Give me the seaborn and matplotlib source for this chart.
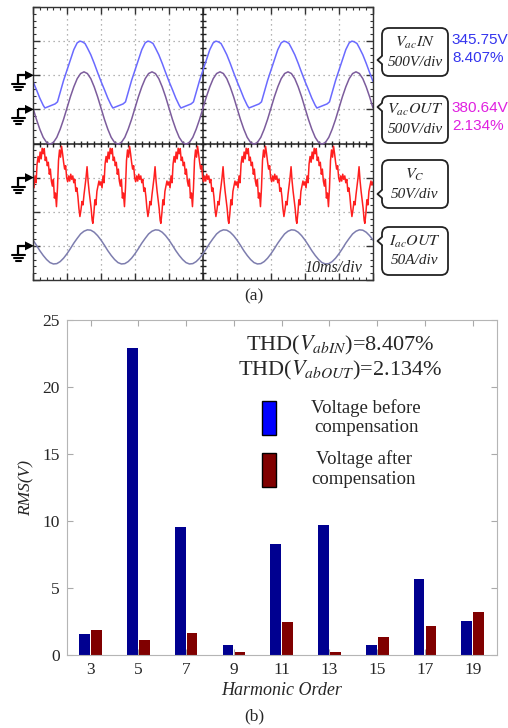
import numpy as np
import pandas as pd
import matplotlib
matplotlib.use("Agg")
import matplotlib.pyplot as plt
import seaborn as sns
from matplotlib.patches import FancyBboxPatch, Patch

# ---- (b) harmonic spectrum ----
harmonics = ['3', '5', '7', '9', '11', '13', '15', '17', '19']
rms_before = [1.54, 22.9, 9.54, 0.74, 8.25, 9.69, 0.75, 5.69, 2.56]
rms_after = [1.83, 1.12, 1.62, 0.25, 2.49, 0.25, 1.32, 2.20, 3.23]

# ---- (a) scope traces, one 20 ms period each (t in ms, value in divisions) ----
period = 20
t_vin = [0, 1, 2, 3, 3.5, 4.5, 5.5, 6.5, 7.2, 8, 9, 10, 11, 12, 13, 13.8, 14.5, 15.3, 16, 17, 18, 19]
v_vin = [5.82, 5.58, 5.33, 5.12, 5.04, 5.08, 5.12, 5.16, 5.22, 5.50, 5.85, 6.15, 6.45,
         6.75, 6.95, 7.00, 6.98, 6.93, 6.80, 6.60, 6.35, 6.08]
t_sin = list(range(20))
v_vout = [5.04, 4.71, 4.42, 4.18, 4.03, 3.98, 4.03, 4.18, 4.42, 4.71,
          5.04, 5.37, 5.66, 5.90, 6.05, 6.10, 6.05, 5.90, 5.66, 5.37]
i_out = [1.17, 1.02, 0.86, 0.72, 0.60, 0.51, 0.47, 0.48, 0.54, 0.64,
         0.77, 0.92, 1.08, 1.22, 1.35, 1.43, 1.47, 1.46, 1.40, 1.30]
t_vc = [0.0, 0.3, 0.6, 0.9, 1.2, 1.5, 1.8, 2.1, 2.4, 2.7, 3.0, 3.3, 3.6, 3.9, 4.2, 4.5,
        4.8, 5.1, 5.4, 5.7, 6.0, 6.3, 6.6, 6.9, 7.2, 7.5, 7.8, 8.1, 8.4, 8.7, 9.0, 9.3,
        9.6, 9.9, 10.2, 10.5, 10.8, 11.1, 11.4, 11.7, 12.0, 12.3, 12.6, 12.9, 13.2, 13.5,
        13.8, 14.1, 14.4, 14.7, 15.0, 15.3, 15.6, 15.9, 16.2, 16.5, 16.8, 17.1, 17.4,
        17.6, 17.9, 18.2, 18.5, 18.8, 19.1, 19.4, 19.7]
v_vc = [2.88, 2.70, 3.05, 2.85, 3.40, 3.62, 3.45, 3.75, 3.55, 3.86, 3.70, 3.85, 3.50,
        3.60, 3.35, 3.45, 3.10, 3.25, 2.90, 2.75, 2.95, 2.40, 2.55, 2.15, 2.70, 3.50,
        3.81, 3.60, 3.92, 3.70, 3.45, 3.25, 3.35, 3.00, 2.88, 3.05, 2.90, 3.10, 2.95,
        3.05, 2.85, 2.95, 2.60, 2.70, 2.45, 2.10, 1.86, 2.05, 2.30, 2.20, 2.50, 2.75,
        3.00, 3.32, 2.90, 2.60, 2.35, 2.10, 1.75, 1.66, 1.95, 2.35, 2.20, 2.60, 2.75,
        2.90, 2.78]


def repeat_period(t_one, v_one, n=5):
    t = np.concatenate([np.asarray(t_one, float) + k * period for k in range(n)] + [[n * period]])
    v = np.concatenate([np.asarray(v_one, float)] * n + [[v_one[0]]])
    return t, v


frames = []
for name, tt, vv in [('VacIN', t_vin, v_vin), ('VacOUT', t_sin, v_vout),
                     ('VC', t_vc, v_vc), ('IacOUT', t_sin, i_out)]:
    t, v = repeat_period(tt, vv)
    frames.append(pd.DataFrame({'t': t, 'v': v, 'trace': name}))
scope = pd.concat(frames, ignore_index=True)

bars = pd.DataFrame({'harmonic': harmonics * 2,
                     'rms': rms_before + rms_after,
                     'series': ['before'] * 9 + ['after'] * 9})

sns.set_style('white')
plt.rcParams['font.family'] = ['Liberation Serif', 'DejaVu Serif']
plt.rcParams['mathtext.fontset'] = 'stix'

W, H = 508, 728
fig = plt.figure(figsize=(W / 100, H / 100), dpi=100)
ax_s = fig.add_axes([33 / W, 1 - 280 / H, 340 / W, 273 / H])
ax_b = fig.add_axes([66.7 / W, 1 - 655 / H, 430 / W, 335 / H])

# scope panel
sns.lineplot(data=scope, x='t', y='v', hue='trace', estimator=None, sort=False,
             palette={'VacIN': '#6a6aff', 'VacOUT': '#7c5c9c', 'VC': '#ff1f1f', 'IacOUT': '#7d7dae'},
             lw=1.1, legend=False, ax=ax_s)
ax_s.set_xlim(0, 100)
ax_s.set_ylim(0, 8)
ax_s.set_xticks(np.arange(0, 101, 10))
ax_s.set_yticks(np.arange(0, 9, 1))
ax_s.set_xticks(np.arange(0, 101, 2), minor=True)
ax_s.set_yticks(np.arange(0, 8.01, 0.2), minor=True)
ax_s.tick_params(which='both', direction='in', top=True, right=True, bottom=True, left=True,
                 labelbottom=False, labelleft=False, color='#333333')
ax_s.tick_params(which='major', length=5, width=1)
ax_s.tick_params(which='minor', length=2.5, width=0.8)
ax_s.grid(which='major', color='#9a9a9a', ls=(0, (1, 3)), lw=0.9)
ax_s.axhline(4, color='#222222', lw=1.1, zorder=1.5)
ax_s.axvline(50, color='#222222', lw=1.1, zorder=1.5)
ax_s.plot(np.arange(0, 101, 2), np.full(51, 4.0), ls='none', marker='|', ms=4, color='#222222', zorder=1.5)
ax_s.plot(np.full(41, 50.0), np.arange(0, 8.01, 0.2), ls='none', marker='_', ms=4, color='#222222', zorder=1.5)
ax_s.set_xlabel('')
ax_s.set_ylabel('')
for sp in ax_s.spines.values():
    sp.set_color('#333333')
    sp.set_linewidth(1)

# bar panel
sns.barplot(data=bars, x='harmonic', y='rms', hue='series', palette=['#000090', '#800000'],
            width=0.5, gap=0.1, saturation=1, errorbar=None, linewidth=0, legend=False, ax=ax_b)
ax_b.set_ylim(0, 25)
ax_b.set_yticks(range(0, 26, 5))
ax_b.tick_params(direction='in', top=True, right=True, bottom=True, left=True,
                 length=4, color='#aaaaaa', labelsize=12.5, pad=5)
for sp in ax_b.spines.values():
    sp.set_color('#b5b5b5')
    sp.set_linewidth(0.8)
ax_b.set_xlabel('Harmonic Order', style='italic', fontsize=13, labelpad=3)
ax_b.set_ylabel('RMS(V)', style='italic', fontsize=12.5, labelpad=6)
ax_b.text(0.637, 0.925, r'THD($V_{abIN}$)=8.407%', transform=ax_b.transAxes, ha='center', va='center', fontsize=16)
ax_b.text(0.637, 0.85, r'THD($V_{abOUT}$)=2.134%', transform=ax_b.transAxes, ha='center', va='center', fontsize=16)
handles = [Patch(facecolor='#0000ff', edgecolor='black', lw=1),
           Patch(facecolor='#800000', edgecolor='black', lw=1)]
leg = ax_b.legend(handles, ['Voltage before\ncompensation', 'Voltage after\ncompensation'],
                  loc='upper left', bbox_to_anchor=(0.4535, 0.765), frameon=False, fontsize=13.5,
                  handlelength=0.75, handleheight=2.4, handletextpad=1.9, labelspacing=0.75,
                  borderpad=0, borderaxespad=0)
for txt in leg.get_texts():
    txt.set_multialignment('center')

# annotations in pixel coordinates
ann = fig.add_axes([0, 0, 1, 1], zorder=10)
ann.set_xlim(0, W)
ann.set_ylim(H, 0)
ann.axis('off')


def ground(y):
    ann.fill([25, 34, 25], [y - 4.5, y, y + 4.5], color='black', lw=0)
    ann.plot([18, 26], [y, y], color='black', lw=1.6, solid_capstyle='butt')
    ann.plot([18, 18], [y - 0.8, y + 9], color='black', lw=1.6, solid_capstyle='butt')
    ann.plot([11.5, 24.5], [y + 9, y + 9], color='black', lw=1.5)
    ann.plot([13.5, 22.5], [y + 12, y + 12], color='black', lw=1.5)
    ann.plot([15.5, 20.5], [y + 15, y + 15], color='black', lw=1.5)


for lvl in [6, 5, 3, 1]:
    ground(280 - lvl * 273 / 8)


def callout(y0, y1, yn, line1, line2):
    x0, x1 = 382, 448
    ann.add_patch(FancyBboxPatch((x0, y0), x1 - x0, y1 - y0, boxstyle='round,pad=0,rounding_size=7',
                                 facecolor='white', edgecolor='#222222', lw=1.3))
    ann.fill([x0 - 1, x0 + 1.5, x0 + 1.5, x0 - 1], [yn - 4, yn - 4, yn + 4, yn + 4], color='white', lw=0)
    ann.plot([x0, x0 - 4.5, x0], [yn - 4, yn, yn + 4], color='#222222', lw=1.3)
    ym = (y0 + y1) / 2
    ann.text((x0 + x1) / 2, ym - 9.5, line1, ha='center', va='center', fontsize=11.5, style='italic')
    ann.text((x0 + x1) / 2, ym + 10, line2, ha='center', va='center', fontsize=11, style='italic')


callout(28, 76, 60, r'$V_{ac}IN$', '500V/div')
callout(96, 143, 107, r'$V_{ac}OUT$', '500V/div')
callout(160, 208, 194, r'$V_C$', '50V/div')
callout(227, 275, 241, r'$I_{ac}OUT$', '50A/div')

sans = ['Liberation Sans', 'DejaVu Sans']
ann.text(451, 40, '345.75V', color='#3434ee', fontsize=11, family=sans, va='center')
ann.text(452, 58.5, '8.407%', color='#3434ee', fontsize=11, family=sans, va='center')
ann.text(451, 108, '380.64V', color='#e020e0', fontsize=11, family=sans, va='center')
ann.text(452, 126.5, '2.134%', color='#e020e0', fontsize=11, family=sans, va='center')
ann.text(333, 268, '10ms/div', ha='center', va='center', fontsize=11.5, style='italic')
ann.text(254, 296, '(a)', ha='center', va='center', fontsize=12.5)
ann.text(254, 716, '(b)', ha='center', va='center', fontsize=12.5)

fig.savefig('out.png', dpi=100)
